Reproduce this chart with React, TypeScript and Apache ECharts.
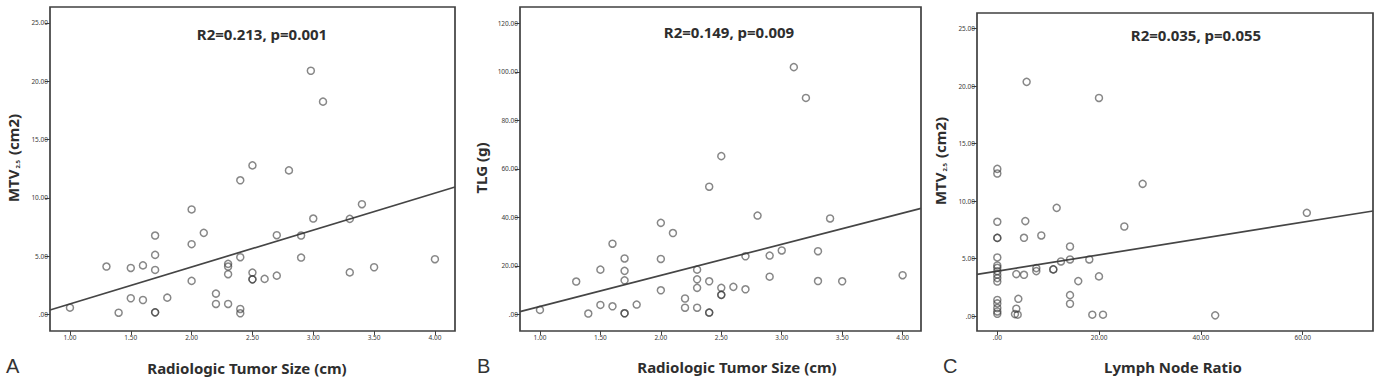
import { useEffect, useRef } from "react";
import * as echarts from "echarts";

// Panel A: Radiologic tumor size vs MTV2.5
const sizeA = [1.0, 1.3, 1.4, 1.5, 1.5, 1.6, 1.6, 1.7, 1.7, 1.7, 1.7, 1.7, 1.8, 2.0, 2.0, 2.0, 2.1, 2.2, 2.2, 2.3, 2.3, 2.3, 2.3, 2.4, 2.4, 2.4, 2.4, 2.5, 2.5, 2.5, 2.5, 2.6, 2.7, 2.7, 2.8, 2.9, 2.9, 2.98, 3.0, 3.08, 3.3, 3.3, 3.4, 3.5, 4.0];
const mtvA = [0.57, 4.1, 0.14, 3.98, 1.38, 4.2, 1.23, 6.76, 5.1, 3.81, 0.17, 0.17, 1.43, 9.0, 6.02, 2.87, 6.99, 1.78, 0.89, 4.33, 4.1, 3.44, 0.89, 11.5, 4.9, 0.46, 0.09, 12.78, 3.58, 3.0, 3.0, 3.04, 6.79, 3.32, 12.35, 6.76, 4.87, 20.9, 8.22, 18.25, 8.19, 3.6, 9.45, 4.04, 4.73];
const fitA = [[0.836, 0.37], [4.165, 10.93]];

// Panel B: Radiologic tumor size vs TLG
const sizeB = [1.0, 1.3, 1.4, 1.5, 1.5, 1.6, 1.6, 1.7, 1.7, 1.7, 1.7, 1.7, 1.8, 2.0, 2.0, 2.0, 2.1, 2.2, 2.2, 2.3, 2.3, 2.3, 2.3, 2.4, 2.4, 2.4, 2.4, 2.5, 2.5, 2.5, 2.5, 2.6, 2.7, 2.7, 2.8, 2.9, 2.9, 3.0, 3.1, 3.2, 3.3, 3.3, 3.4, 3.5, 4.0];
const tlgB = [1.8, 13.5, 0.3, 18.4, 3.85, 29.1, 3.3, 23.0, 17.9, 14.0, 0.4, 0.4, 4.0, 37.7, 22.8, 9.9, 33.5, 6.5, 2.7, 18.4, 14.4, 10.9, 2.7, 52.6, 13.6, 0.7, 0.7, 65.2, 10.9, 8.0, 8.0, 11.3, 23.9, 10.3, 40.7, 24.2, 15.5, 26.3, 101.9, 89.2, 26.0, 13.7, 39.5, 13.6, 16.1];
const fitB = [[0.835, 1.07], [4.152, 43.66]];

// Panel C: Lymph node ratio vs MTV2.5
const lnrC = [0, 0, 0, 0, 0, 0, 0, 0, 0, 0, 0, 0, 0, 0, 0, 0, 0, 5.76, 19.97, 28.55, 60.8, 11.66, 5.5, 5.24, 8.64, 24.95, 14.28, 7.66, 7.66, 11.0, 11.0, 12.5, 14.28, 18.07, 3.73, 5.24, 15.9, 19.97, 4.13, 14.28, 14.28, 3.73, 3.47, 4.0, 18.66, 20.76, 42.8];
const mtvC = [12.8, 12.4, 8.2, 6.8, 6.8, 5.1, 4.4, 4.2, 3.9, 3.6, 3.3, 3.0, 1.4, 1.1, 0.7, 0.4, 0.2, 20.37, 18.97, 11.5, 8.98, 9.41, 8.26, 6.81, 7.01, 7.79, 6.05, 4.17, 3.91, 4.06, 4.06, 4.75, 4.92, 4.92, 3.65, 3.59, 3.04, 3.45, 1.5, 1.82, 1.07, 0.64, 0.17, 0.12, 0.12, 0.12, 0.06];
const fitC = [[-3.99, 3.62], [73.8, 9.14]];

const ticksSize = [1, 1.5, 2, 2.5, 3, 3.5, 4];
const ticksMtv = [0, 5, 10, 15, 20, 25];
const ticksTlg = [0, 20, 40, 60, 80, 100, 120];
const ticksLnr = [0, 20, 40, 60];

const statsA = "R2=0.213, p=0.001";
const statsB = "R2=0.149, p=0.009";
const statsC = "R2=0.035, p=0.055";

const fmt = (v: number) => (v === 0 ? ".00" : Number(v).toFixed(2));
const zip = (xs: number[], ys: number[]) => xs.map((x, i) => [x, ys[i]]);

const FRAME = "#404040";
const FONT = "'Noto Sans', 'Open Sans', sans-serif";

function xAx(gridIndex: number, min: number, max: number, ticks: number[]) {
  return {
    type: "value",
    gridIndex,
    min,
    max,
    axisLine: { show: false, onZero: false },
    splitLine: { show: false },
    axisTick: { show: true, length: 4, inside: false, customValues: ticks, lineStyle: { color: FRAME, width: 1 } },
    axisLabel: { customValues: ticks, formatter: fmt, fontSize: 6.5, color: "#3a3a3a", margin: 3, fontFamily: FONT },
  };
}
function yAx(gridIndex: number, min: number, max: number, ticks: number[]) {
  return {
    type: "value",
    gridIndex,
    min,
    max,
    axisLine: { show: false, onZero: false },
    splitLine: { show: false },
    axisTick: { show: true, length: 5, inside: false, customValues: ticks, lineStyle: { color: FRAME, width: 1 } },
    axisLabel: { customValues: ticks, formatter: fmt, fontSize: 6.5, color: "#3a3a3a", margin: 2, fontFamily: FONT },
  };
}
function scatter(i: number, data: number[][]) {
  return {
    type: "scatter",
    xAxisIndex: i,
    yAxisIndex: i,
    data,
    symbol: "circle",
    symbolSize: 7,
    itemStyle: { color: "rgba(255,255,255,0)", borderColor: "rgba(55,55,55,0.75)", borderWidth: 1.5 },
    z: 3,
  };
}
function fitLine(i: number, data: number[][]) {
  return {
    type: "line",
    xAxisIndex: i,
    yAxisIndex: i,
    data,
    showSymbol: false,
    lineStyle: { color: "#454545", width: 1.7 },
    z: 2,
  };
}

const titleStyle = { fill: "#2e2e2e", fontSize: 15, fontWeight: "bold", fontFamily: FONT, textAlign: "center", textVerticalAlign: "middle" };
const letterStyle = { fill: "#333", fontSize: 20, fontFamily: "'Liberation Sans', Arial, sans-serif", textAlign: "left", textVerticalAlign: "middle" };

function yTitle(x: number, y: number, text: string, rich?: any) {
  return {
    type: "text",
    x,
    y,
    rotation: Math.PI / 2,
    style: { ...titleStyle, text, rich },
  };
}

const mtvRich = {
  m: { fontSize: 15, fontWeight: "bold", fontFamily: FONT, fill: "#2e2e2e", color: "#2e2e2e" },
  s: { fontSize: 6, fontWeight: "bold", fontFamily: FONT, fill: "#2e2e2e", color: "#2e2e2e", verticalAlign: "bottom", padding: [0, 1, 0, 1] },
};

export default function App() {
  const ref = useRef<HTMLDivElement>(null);
  useEffect(() => {
    if (!ref.current) return;
    const chart = echarts.init(ref.current, undefined, { renderer: "svg" });
    const grid = (left: number, top: number, width: number, height: number) => ({
      left,
      top,
      width,
      height,
      show: true,
      borderColor: FRAME,
      borderWidth: 1.7,
      backgroundColor: "#fff",
    });
    chart.setOption({
      animation: false,
      backgroundColor: "#fff",
      grid: [grid(50, 7, 405, 324), grid(520, 7, 401, 324), grid(977, 13, 396, 318)],
      xAxis: [xAx(0, 0.836, 4.165, ticksSize), xAx(1, 0.835, 4.152, ticksSize), xAx(2, -3.99, 73.8, ticksLnr)],
      yAxis: [yAx(0, -1.43, 26.37, ticksMtv), yAx(1, -6.9, 126.7, ticksTlg), yAx(2, -1.3, 26.36, ticksMtv)],
      series: [
        fitLine(0, fitA),
        scatter(0, zip(sizeA, mtvA)),
        fitLine(1, fitB),
        scatter(1, zip(sizeB, tlgB)),
        fitLine(2, fitC),
        scatter(2, zip(lnrC, mtvC)),
      ],
      graphic: [
        { type: "text", x: 262, y: 34, style: { ...titleStyle, text: statsA } },
        { type: "text", x: 729, y: 32, style: { ...titleStyle, text: statsB } },
        { type: "text", x: 1196, y: 35, style: { ...titleStyle, text: statsC } },
        { type: "text", x: 247, y: 368, style: { ...titleStyle, text: "Radiologic Tumor Size (cm)" } },
        { type: "text", x: 737, y: 367, style: { ...titleStyle, text: "Radiologic Tumor Size (cm)" } },
        { type: "text", x: 1173, y: 367, style: { ...titleStyle, text: "Lymph Node Ratio" } },
        yTitle(13, 158, "{m|MTV}{s|2.5}{m| (cm2)}", mtvRich),
        yTitle(481, 168, "TLG (g)"),
        yTitle(940, 161, "{m|MTV}{s|2.5}{m| (cm2)}", mtvRich),
        { type: "text", x: 6, y: 366, style: { ...letterStyle, text: "A" } },
        { type: "text", x: 477, y: 366, style: { ...letterStyle, text: "B" } },
        { type: "text", x: 943, y: 366, style: { ...letterStyle, text: "C" } },
      ],
    });
    return () => chart.dispose();
  }, []);
  return <div ref={ref} style={{ position: "absolute", left: 0, top: 0, width: 1381, height: 379 }} />;
}
